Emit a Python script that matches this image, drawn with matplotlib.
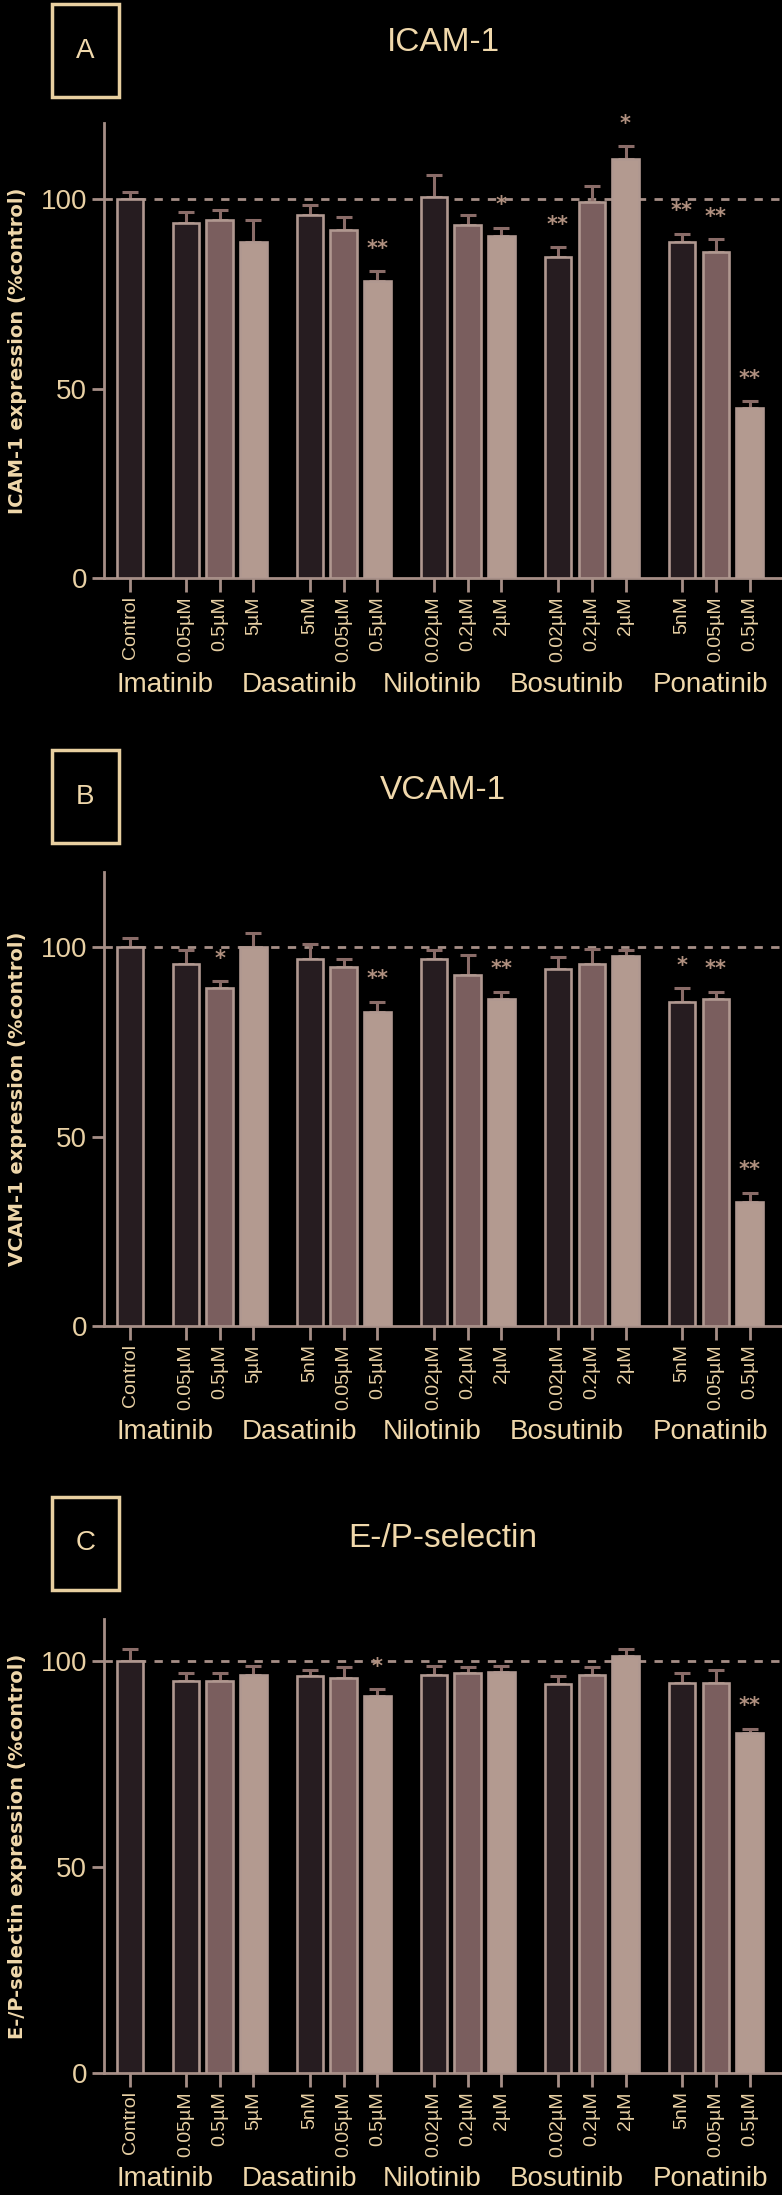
import matplotlib
matplotlib.use("Agg")
import matplotlib.pyplot as plt
from matplotlib.patches import Rectangle
from matplotlib import font_manager
import numpy as np

# ---------------- data ----------------
tick_labels = ['Control', '0.05µM', '0.5µM', '5µM', '5nM', '0.05µM', '0.5µM',
               '0.02µM', '0.2µM', '2µM', '0.02µM', '0.2µM', '2µM',
               '5nM', '0.05µM', '0.5µM']
drugs = ['Imatinib', 'Dasatinib', 'Nilotinib', 'Bosutinib', 'Ponatinib']
panel_letters = ['A', 'B', 'C']
panel_titles = ['ICAM-1', 'VCAM-1', 'E-/P-selectin']
ylabels = ['ICAM-1 expression (%control)', 'VCAM-1 expression (%control)',
           'E-/P-selectin expression (%control)']

vals_A = [100, 93.7, 94.6, 88.8, 95.8, 91.8, 78.3, 100.5, 93.1, 90.4, 84.7, 99.3, 110.5, 88.7, 86.0, 44.9]
errs_A = [2.0, 2.9, 2.5, 5.7, 2.6, 3.4, 2.7, 5.9, 2.6, 2.1, 2.6, 4.1, 3.4, 2.2, 3.4, 1.8]
sig_A = ['', '', '', '', '', '', '**', '', '', '*', '**', '', '*', '**', '**', '**']

vals_B = [100, 95.6, 89.4, 100, 96.9, 94.7, 83.0, 96.9, 92.8, 86.5, 94.2, 95.6, 97.8, 85.7, 86.5, 32.8]
errs_B = [2.5, 3.7, 1.7, 3.9, 4.0, 2.2, 2.7, 2.4, 5.2, 1.8, 3.3, 4.0, 1.5, 3.5, 1.8, 2.4]
sig_B = ['', '', '*', '', '', '', '**', '', '', '**', '', '', '', '*', '**', '**']

vals_C = [100, 95.1, 95.1, 96.5, 96.3, 95.8, 91.4, 96.5, 97.1, 97.3, 94.3, 96.5, 101.0, 94.5, 94.5, 82.4]
errs_C = [2.8, 2.0, 2.0, 2.1, 1.3, 2.6, 1.7, 2.3, 1.3, 1.5, 1.9, 1.9, 1.7, 2.6, 3.1, 1.1]
sig_C = ['', '', '', '', '', '', '*', '', '', '', '', '', '', '', '', '**']

ymax_list = [120, 120, 110]

# ---------------- style ----------------
BG = '#000000'
DARK = '#261c20'
MID = '#7a5e5e'
LIGHT = '#b39a90'
EDGE = '#b09890'
AXC = '#a68e86'
ERRC = '#8a6c68'
TXT = '#f0d8ab'
TICKTXT = '#e8d0a4'
STARC = '#b0907f'

names = {f.name for f in font_manager.fontManager.ttflist}
NARROW = 'Liberation Sans Narrow' if 'Liberation Sans Narrow' in names else 'Liberation Sans'
plt.rcParams['font.family'] = [NARROW, 'DejaVu Sans']

bar_colors = [DARK] + [DARK, MID, LIGHT] * 5

# layout (pixels in a 782x2195 figure)
W, H = 782, 2195
fig = plt.figure(figsize=(W / 100, H / 100), dpi=100, facecolor=BG)

ax_left, ax_right = 104, 782
ax_tops = [123.3, 871.7, 1619.3]
ax_bottoms = [578.3, 1326.0, 2073.3]
box_tops = [4, 750, 1497]

# x positions: control then five groups of three
xpos = [0.0]
for g in range(5):
    start = 1.65 + g * 3.67
    xpos += [start, start + 1.0, start + 2.0]
xpos = np.array(xpos)
group_label_x = [1.04, 5.0, 8.93, 12.93, 17.16]

all_vals = [vals_A, vals_B, vals_C]
all_errs = [errs_A, errs_B, errs_C]
all_sigs = [sig_A, sig_B, sig_C]

for p in range(3):
    top, bot = ax_tops[p], ax_bottoms[p]
    ax = fig.add_axes([ax_left / W, 1 - bot / H, (ax_right - ax_left) / W, (bot - top) / H])
    ax.set_facecolor(BG)
    vals = np.array(all_vals[p])
    errs = np.array(all_errs[p])

    ax.axhline(100, color=AXC, lw=2, ls=(0, (3, 3)), zorder=1, clip_on=False)
    ax.bar(xpos, vals, width=0.78, color=bar_colors, edgecolor=EDGE, linewidth=1.9, zorder=3)
    ax.errorbar(xpos, vals, yerr=[np.zeros_like(errs), errs], fmt='none', ecolor=ERRC,
                elinewidth=2.2, capsize=6, capthick=2.2, zorder=2)
    for x, v, e, s in zip(xpos, vals, errs, all_sigs[p]):
        if s:
            ax.annotate(s, (x, v + e), xytext=(0, 9), textcoords='offset points',
                        ha='center', va='bottom', color=STARC, fontsize=15,
                        fontweight='bold', family='DejaVu Sans')

    ax.set_xlim(-0.77, 19.29)
    ax.set_ylim(0, ymax_list[p])
    ax.set_yticks([0, 50, 100])
    ax.set_yticklabels(['0', '50', '100'])
    ax.set_xticks(xpos)
    ax.set_xticklabels(tick_labels, rotation=90)

    for sp in ['top', 'right']:
        ax.spines[sp].set_visible(False)
    for sp in ['left', 'bottom']:
        ax.spines[sp].set_color(AXC)
        ax.spines[sp].set_linewidth(2)
    ax.tick_params(axis='y', length=9, width=2, color=AXC, labelcolor=TICKTXT,
                   labelsize=20, pad=3)
    ax.tick_params(axis='x', length=10, width=2, color=AXC, labelcolor=TICKTXT,
                   labelsize=14, pad=3)

    ax.set_ylabel(ylabels[p], color=TXT, fontsize=14, fontweight='bold',
                  family='DejaVu Sans')
    ax.yaxis.label.set_va('center')
    ax.yaxis.set_label_coords((18 - ax_left) / (ax_right - ax_left), 0.5)

    h = bot - top
    for gx, name in zip(group_label_x, drugs):
        ax.text(gx, -(107 if p == 0 else 106) / h, name, transform=ax.get_xaxis_transform(),
                ha='center', va='center', color=TXT, fontsize=20)

    ax.set_title(panel_titles[p], color=TXT, fontsize=24, pad=52)

    # panel letter box
    bt = box_tops[p]
    fig.patches.append(Rectangle((52 / W, 1 - (bt + 93) / H), 67 / W, 93 / H,
                                 transform=fig.transFigure, fill=False,
                                 edgecolor='#e8cfa0', linewidth=2.5))
    fig.text(85.5 / W, 1 - (bt + 46.5) / H, panel_letters[p], ha='center', va='center',
             color=TXT, fontsize=20)

fig.savefig('out.png', dpi=100, facecolor=BG)
